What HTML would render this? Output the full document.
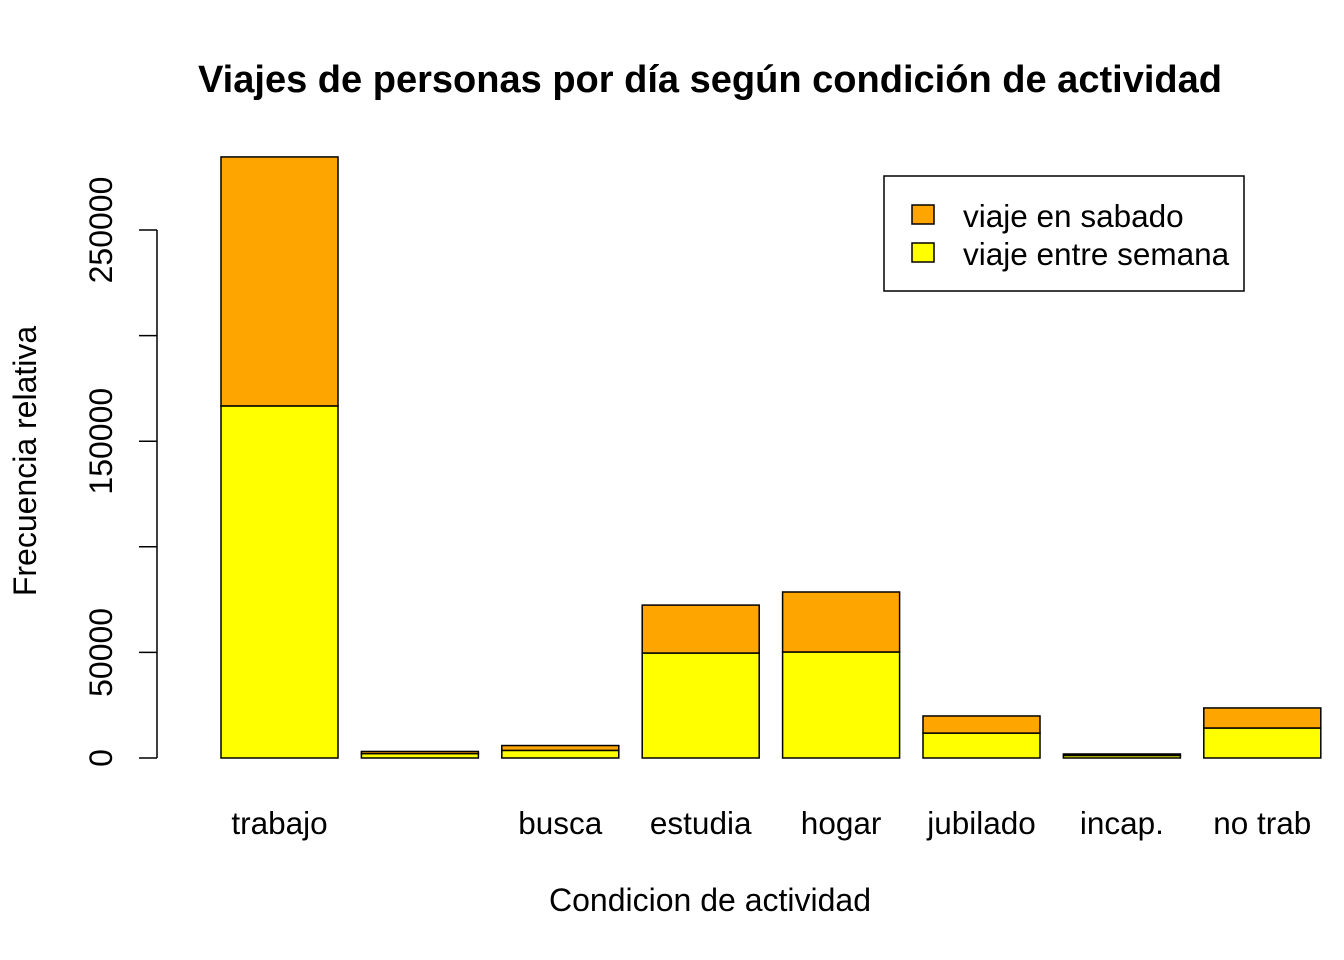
<!DOCTYPE html>
<html><head><meta charset="utf-8"><style>
body{margin:0;background:#fff}
svg{display:block;font-family:"Liberation Sans",Arial,sans-serif}
</style></head><body>
<svg id="chart" width="1344" height="960">
<text x="710" y="92" text-anchor="middle" font-size="38" font-weight="bold" textLength="1024" lengthAdjust="spacingAndGlyphs">Viajes de personas por día según condición de actividad</text>
<text x="710" y="911" text-anchor="middle" font-size="32">Condicion de actividad</text>
<text transform="translate(36,461) rotate(-90)" text-anchor="middle" font-size="32">Frecuencia relativa</text>
<g id="yaxis"></g>
<g id="bars"></g>
<g id="xlabels"></g>
<g>
<rect x="884" y="176" width="360" height="115" fill="#fff" stroke="#000" stroke-width="1.5"/>
<rect x="912" y="205" width="22" height="19" fill="#FFA500" stroke="#000" stroke-width="1.5"/>
<text x="963" y="227" font-size="31.5">viaje en sabado</text>
<rect x="912" y="243" width="22" height="19" fill="#FFFF00" stroke="#000" stroke-width="1.5"/>
<text x="963" y="265" font-size="31.5">viaje entre semana</text>
</g>
</svg>
<script>
const categories = ["trabajo","","busca","estudia","hogar","jubilado","incap.","no trab"];
const semana = [166700, 2100, 3600, 49700, 50200, 11800, 1200, 14200];
const sabado = [117900, 1000, 2300, 22700, 28400, 8100, 700, 9500];
const yTicks = [0, 50000, 100000, 150000, 200000, 250000];
const yTickLabels = ["0","50000","","150000","","250000"];

const NS="http://www.w3.org/2000/svg";
const y0=758, scale=528/250000;
const yPos=v=>y0-v*scale;
const barX=i=>221+i*140.4;
const barW=117;
function mk(tag,attrs,parent){const e=document.createElementNS(NS,tag);for(const k in attrs)e.setAttribute(k,attrs[k]);parent.appendChild(e);return e;}
const ya=document.getElementById('yaxis');
const axl=mk('line',{x1:157,x2:157,y1:yPos(yTicks[0]),y2:yPos(yTicks[yTicks.length-1]),stroke:'#000','stroke-width':1.5},ya);


yTicks.forEach((t,i)=>{
  const tk=mk('line',{x1:139,x2:157,y1:yPos(t),y2:yPos(t),stroke:'#000','stroke-width':1.5},ya);
  
  
  if(yTickLabels[i]){
    const tx=mk('text',{transform:`translate(112,${yPos(t)}) rotate(-90)`,'text-anchor':'middle','font-size':32},ya);
    tx.textContent=yTickLabels[i];
    
    
  }
});
const bg=document.getElementById('bars'), xl=document.getElementById('xlabels');
categories.forEach((c,i)=>{
  const x=barX(i);
  const r1=mk('rect',{x:x,y:yPos(semana[i]),width:barW,height:semana[i]*scale,fill:'#FFFF00',stroke:'#000','stroke-width':1.5},bg);
  
  
  const r2=mk('rect',{x:x,y:yPos(semana[i]+sabado[i]),width:barW,height:sabado[i]*scale,fill:'#FFA500',stroke:'#000','stroke-width':1.5},bg);
  
  
  const t=mk('text',{x:x+barW/2,y:834,'text-anchor':'middle','font-size':31.5},xl);
  t.textContent=c;
  
  
});
</script>
</body></html>
